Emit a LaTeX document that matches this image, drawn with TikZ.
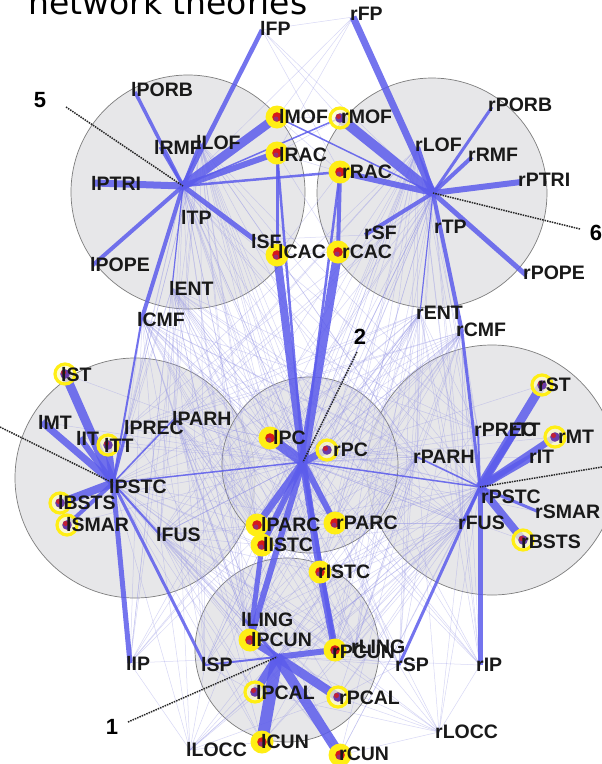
\documentclass[tikz,border=0pt]{standalone}
\usepackage{fontspec}
\setmainfont{Liberation Sans}
\newfontfamily\titlefont{DejaVu Sans}
\definecolor{edgec}{RGB}{92,92,236}
\definecolor{meshc}{RGB}{150,150,230}
\definecolor{circf}{RGB}{226,226,228}
\definecolor{circd}{RGB}{125,125,125}
\definecolor{hotY}{RGB}{255,238,20}
\definecolor{hotR}{RGB}{215,25,25}
\definecolor{hotP}{RGB}{105,60,170}
\tikzset{
  circ/.style={draw=circd, line width=0.7pt, fill=circf, fill opacity=0.8},
  we/.style={draw=edgec, line width=#1pt, opacity=0.85},
  mesh/.style={draw=meshc, line width=0.5pt, opacity=0.38},
  lab/.style={anchor=west, inner sep=0pt, font=\bfseries\fontsize{19.5}{20}\selectfont, text=black!90},
  num/.style={inner sep=0pt, font=\bfseries\fontsize{22}{22}\selectfont},
  ptr/.style={draw=black!85, line width=1.5pt, densely dotted}
}
\begin{document}
\begin{tikzpicture}[x=1pt,y=-1pt]
\useasboundingbox (0,0) rectangle (602,764);
\clip (0,0) rectangle (602,764);
\fill[white] (0,0) rectangle (602,764);
% title (cut off at the top)
\node[anchor=base west, inner sep=0pt, font=\titlefont\fontsize{33}{33}\selectfont] (title) at (28,14) {network theories};
% module circles
\draw[circ] (188,192) circle (117pt);
\draw[circ] (432,193) circle (115pt);
\draw[circ] (135,478) circle (120pt);
\draw[circ] (492,470) circle (125pt);
\draw[circ] (310,465) circle (88pt);
\draw[circ] (287,650) circle (92pt);
% regions: name / dot x / dot y / label x / label y
\def\regs{lFP/262/30/260/28, lPORB/135/92/131/90, lRMF/160/147/154/147, lLOF/200/143/196/143,
 lPTRI/95/183/91/183, lTP/183/186/181/217, lSF/255/240/251/242, lCAC/277/255/278/252,
 lMOF/277/117/279/117, lRAC/277/153/279/155, lPOPE/93/265/90/265, lENT/172/288/169/288,
 lCMF/142/318/137/320,
 rFP/353/17/350/14, rMOF/340/118/341/117, rRAC/340/172/342/172, rCAC/338/252/342/252,
 rSF/365/235/364/233, rLOF/418/147/415/145, rRMF/472/157/468/155, rPORB/492/107/488/105,
 rPTRI/521/182/518/180, rTP/433/193/434/227, rPOPE/526/275/523/273, rENT/420/313/416/313,
 rCMF/462/332/456/330,
 lST/65/374/61/375, lMT/42/422/38/422, lIT/80/438/76/438, lTT/108/445/104/445,
 lPREC/127/428/124/428, lPARH/175/418/172/418, lPSTC/113/483/109/487, lBSTS/60/503/58/503,
 lSMAR/67/525/66/525, lFUS/160/535/156/535,
 lPC/270/438/273/438, rPC/327/450/333/450, lPARC/257/525/261/525, lISTC/262/545/263/545,
 rPARC/335/523/336/523, rISTC/320/572/318/572,
 rST/542/385/538/385, rPREC/478/430/474/430, rTT/515/432/509/430, rMT/555/437/558/437,
 rIT/532/457/529/457, rPARH/417/457/413/457, rPSTC/480/487/481/497, rSMAR/539/512/535/512,
 rFUS/462/523/458/523, rBSTS/523/540/521/542,
 lLING/245/620/241/620, lPCUN/250/640/251/640, rLING/355/647/351/647, rPCUN/335/650/332/652,
 lIP/130/663/126/663, lSP/205/665/201/665, rSP/399/665/395/665, rIP/480/665/476/665,
 lPCAL/255/692/256/693, rPCAL/338/697/339/698, lLOCC/190/750/186/750, lCUN/262/742/261/742,
 rCUN/340/755/339/754, rLOCC/439/732/435/732}
\foreach \n/\dx/\dy/\lx/\ly in \regs {\coordinate (\n) at (\dx,\dy);}
\coordinate (hubC) at (303,462);
\coordinate (hubB) at (277,657);
% faint background mesh
\foreach \a in {lTP,rTP,lLOF,rLOF,lENT,rENT,lCMF,rCMF}
  \foreach \b in {lPC,rPC,lPARC,lISTC,rPARC,rISTC,lPSTC,rPSTC,lFUS,rFUS,lPARH,rPARH,lPREC,rPREC,lPCUN,rPCUN,lLING,rLING,lIP,rIP,lSP,rSP,hubC}
    \draw[mesh] (\a) -- (\b);
\foreach \a in {lPSTC,rPSTC,lFUS,rFUS,lPARH,rPARH}
  \foreach \b in {lPC,rPC,lPARC,lISTC,rPARC,rISTC,lPCUN,rPCUN,lPCAL,rPCAL,lCUN,rCUN,lLOCC,rLOCC,lLING,rLING,hubC,hubB}
    \draw[mesh] (\a) -- (\b);
\foreach \b in {lST,lMT,lIT,lTT,lBSTS,lSMAR,rST,rMT,rIT,rTT,rBSTS,rSMAR,lPREC,rPREC,lFUS,rFUS,lPARH,rPARH,lENT,rENT,lCMF,rCMF,lLOCC,rLOCC,lSP,rSP,lIP,rIP}
  \draw[mesh] (hubC) -- (\b);
\foreach \b in {lLOCC,rLOCC,lIP,rIP,lSP,rSP,lFUS,rFUS,lPARH,rPARH,lPREC,rPREC}
  \draw[mesh] (hubB) -- (\b);
\foreach \a/\b in {lFP/rFP, lFP/rMOF, rFP/lMOF, lFP/rRAC, rFP/lRAC, lMOF/rRAC, rMOF/lRAC, lMOF/rMOF,
  lRAC/rRAC, lMOF/rTP, lFP/rTP, rFP/lTP, lCAC/rCAC, lSF/rSF, lRAC/rCAC, rRAC/lCAC,
  lLOCC/lPCAL, lLOCC/rPCAL, rLOCC/lPCAL, rLOCC/rPCAL, lLOCC/lCUN, rLOCC/rCUN, lLOCC/lIP, rLOCC/rIP,
  lLOCC/lSP, rLOCC/rSP, lSP/lPCAL, rSP/rPCAL, lSP/rPCUN, rSP/lPCUN}
  \draw[mesh] (\a) -- (\b);
% main connectors
\foreach \a/\b/\w in {
  lTP/lPORB/3.5, lTP/lRMF/3, lTP/lLOF/3, lTP/lFP/4.5, lTP/lMOF/9, lTP/lRAC/6, lTP/lPTRI/7,
  lTP/rRAC/2.5, lTP/lSF/5, lTP/lPOPE/4, lTP/lCMF/4, lCMF/lPSTC/2, lTP/lENT/1.2, rMOF/lTP/1.5,
  rTP/rFP/7, rTP/rMOF/10, rTP/rRAC/6, rTP/rLOF/4, rTP/rPORB/3, rTP/rRMF/4, rTP/rPTRI/6,
  rTP/rPOPE/5, rTP/rSF/4, rTP/rCMF/4, rCMF/rPSTC/3, rTP/rENT/1.2, lMOF/rTP/1.5,
  lRAC/lCAC/3, rRAC/rCAC/4,
  hubC/lCAC/8, hubC/rCAC/9, hubC/lPC/10, hubC/rPC/7, hubC/lPARC/7, hubC/lISTC/6, hubC/rPARC/6,
  hubC/rISTC/7, hubC/lPCUN/6, hubC/rPCUN/4, hubC/lRAC/2.5, hubC/rRAC/2.5, hubC/lPSTC/1.5,
  hubC/rPSTC/1.5, rISTC/rPCUN/7, lISTC/lPCUN/5,
  lPSTC/lST/9, lPSTC/lMT/7, lPSTC/lIT/6, lPSTC/lTT/7, lPSTC/lPREC/3, lPSTC/lBSTS/8,
  lPSTC/lSMAR/4, lPSTC/lIP/5, lPSTC/lSP/3, lPSTC/lFUS/2, lPSTC/lPARH/1.5,
  rPSTC/rST/9, rPSTC/rTT/6, rPSTC/rMT/7, rPSTC/rIT/7, rPSTC/rBSTS/8, rPSTC/rSMAR/3,
  rPSTC/rIP/5, rPSTC/rFUS/3, rPSTC/rPARH/1.5, rPSTC/rSP/3, rPSTC/rPREC/2,
  hubB/lPCUN/7, hubB/rPCUN/6, hubB/lPCAL/8, hubB/rPCAL/9, hubB/lCUN/12, hubB/rCUN/10,
  hubB/lLING/3, hubB/lSP/2}
  \draw[we=\w] (\a) -- (\b);
% hot spots: filled
\foreach \n in {lMOF,lRAC,rRAC,lCAC,rCAC,lPC,lPARC,lISTC,rPARC,rISTC,lPCUN,rPCUN,lCUN,rCUN} {
  \fill[hotY] (\n) circle (11.5pt);
  \fill[hotR] (\n) circle (4.8pt);
  \fill[hotP, opacity=0.6] ([xshift=-1pt,yshift=-2pt]\n) circle (2.5pt);
}
% hot spots: rings
\foreach \n in {rMOF,rPC,lST,lTT,lBSTS,lSMAR,rST,rMT,rBSTS,lPCAL,rPCAL} {
  \fill[hotY!25, opacity=0.7] (\n) circle (10pt);
  \draw[hotY, line width=3.2pt] (\n) circle (10pt);
  \fill[hotP] (\n) circle (4.8pt);
  \fill[hotR, opacity=0.8] ([xshift=-1.5pt,yshift=1.5pt]\n) circle (2.5pt);
}
% labels
\foreach \n/\dx/\dy/\lx/\ly in \regs {\node[lab] (\n-t) at (\lx,\ly) {\n};}
% module pointers
\node[num] (num5) at (40,100) {5};
\node[num] (num6) at (596,233) {6};
\node[num] (num2) at (360,337) {2};
\node[num] (num1) at (112,727) {1};
\coordinate (p5) at (66,107);
\coordinate (p6) at (580,229);
\coordinate (p2) at (357,352);
\coordinate (p1) at (128,722);
\coordinate (p3) at (0,427);
\coordinate (p4) at (602,467);
\draw[ptr] (p5) -- (lTP);
\draw[ptr] (p6) -- (rTP);
\draw[ptr] (p2) -- (hubC);
\draw[ptr] (p1) -- (hubB);
\draw[ptr] (p3) -- (lPSTC);
\draw[ptr] (p4) -- (rPSTC);
\end{tikzpicture}
\end{document}
